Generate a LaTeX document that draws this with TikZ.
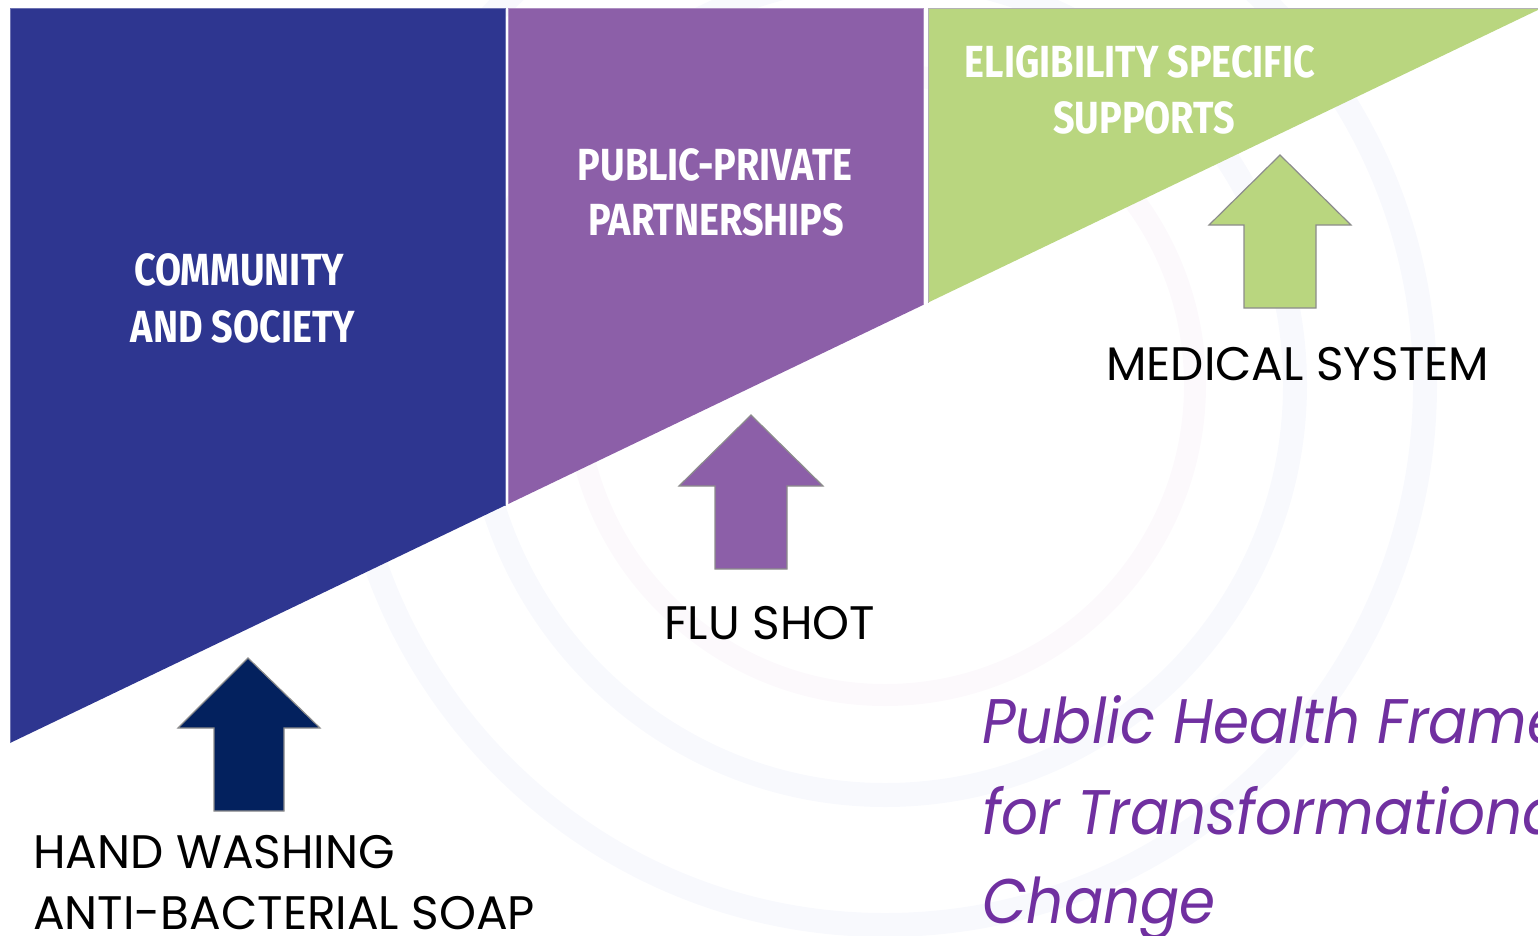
\documentclass[tikz,border=0pt]{standalone}
\usepackage{fontspec}
\newfontfamily\hdrfont[FakeStretch=0.84]{Fira Sans}
\newfontfamily\lblfont{Poppins}
\newfontfamily\ttlfont[FakeStretch=0.92]{Poppins}
\definecolor{cblue}{HTML}{2E3690}
\definecolor{cpurple}{HTML}{8C5FA8}
\definecolor{cgreen}{HTML}{B9D67F}
\definecolor{cnavy}{HTML}{03215E}
\definecolor{ctitle}{HTML}{7030A0}
\definecolor{cring}{HTML}{F8F9FD}
\definecolor{cringp}{HTML}{FCF9FC}
\begin{document}
\begin{tikzpicture}[x=1pt,y=-1pt,
  hdr/.style={text=white,font=\hdrfont\bfseries\fontsize{45}{45}\selectfont,anchor=base,inner sep=0pt},
  lbl/.style={text=black,font=\lblfont\fontsize{47}{47}\selectfont,anchor=base west,inner sep=0pt},
  ttl/.style={text=ctitle,font=\ttlfont\itshape\fontsize{63}{63}\selectfont,anchor=base west,inner sep=0pt},
  blockarrow/.style={draw=black!45,line width=1.2pt},
  ring/.style={draw=cring,line width=24pt}]
\useasboundingbox (0,0) rectangle (1538,935);
\clip (0,0) rectangle (1538,935);
% faint background rings
\draw[draw=cringp,line width=22pt] (885,385) circle (310);
\draw[ring] (885,385) circle (410);
\draw[ring] (885,385) circle (540);
% three bands above the diagonal
\fill[cblue] (10,8) -- (505,8) -- (505,505.5) -- (10,743) -- cycle;
\draw[cblue!70!white,line width=0.8pt] (10,743) -- (10,8) -- (505,8) -- (505,505.5);
\fill[cpurple] (508,8) -- (923,8) -- (923,305) -- (508,504.1) -- cycle;
\draw[cpurple!70!white,line width=0.8pt] (508,504.1) -- (508,8) -- (923,8) -- (923,305);
\fill[cgreen] (928,8) -- (1542,8) -- (928,302.6) -- cycle;
\draw[black!30,line width=0.8pt] (928,302.6) -- (928,8) -- (1542,8);
% band titles
\node[hdr] (comm1) at (239,285) {COMMUNITY};
\node[hdr] (comm2) at (243,342) {AND SOCIETY};
\node[hdr] (pub1) at (715,180) {PUBLIC-PRIVATE};
\node[hdr] (pub2) at (716,235) {PARTNERSHIPS};
\node[hdr] (elig1) at (1140,77) {ELIGIBILITY SPECIFIC};
\node[hdr] (elig2) at (1144,133) {SUPPORTS};
% block arrows
\draw[blockarrow,fill=cnavy] (248,658) -- (320,728) -- (284,728) -- (284,811) -- (214,811) -- (214,728) -- (178,728) -- cycle;
\draw[blockarrow,fill=cpurple] (751,415) -- (823,486) -- (787,486) -- (787,569) -- (715,569) -- (715,486) -- (679,486) -- cycle;
\draw[blockarrow,fill=cgreen] (1280,155) -- (1351,225) -- (1316,225) -- (1316,308) -- (1244,308) -- (1244,225) -- (1209,225) -- cycle;
% labels
\node[lbl] (hand) at (33,868) {HAND WASHING};
\node[lbl] (soap) at (33,929) {ANTI-BACTERIAL SOAP};
\node[lbl] (flu) at (664,639) {FLU SHOT};
\node[lbl] (med) at (1106,380) {MEDICAL SYSTEM};
% title
\node[ttl] (t1) at (982,743) {Public Health Framework};
\node[ttl] (t2) at (982,834) {for Transformational};
\node[ttl] (t3) at (982,923) {Change};
\end{tikzpicture}
\end{document}
